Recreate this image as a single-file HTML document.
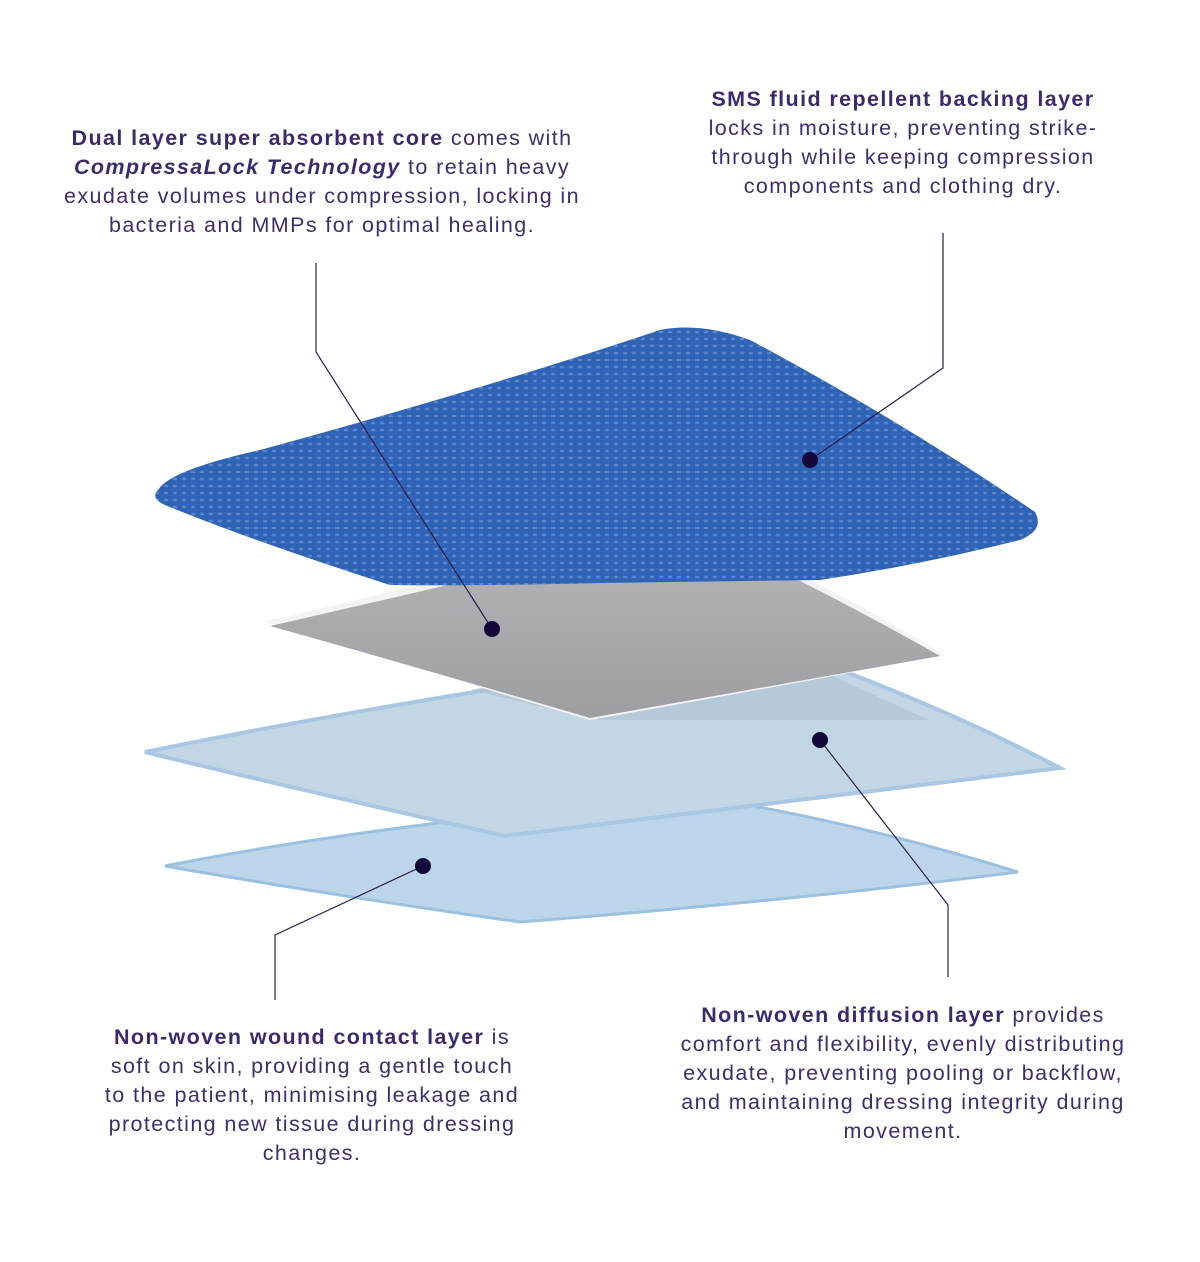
<!DOCTYPE html>
<html><head><meta charset="utf-8"><style>
body{margin:0;width:1200px;height:1262px;background:#fff;position:relative;overflow:hidden;font-family:"Liberation Sans",sans-serif;}
.t{position:absolute;text-align:center;color:#3f2d6d;font-size:21.5px;line-height:29px;letter-spacing:1.4px;white-space:nowrap;}
.t b{color:#3d2a6e}
svg{position:absolute;left:0;top:0}
</style></head><body>
<svg width="1200" height="1262">
<defs>
<pattern id="dots" width="9" height="7" patternUnits="userSpaceOnUse"><ellipse cx="4" cy="3" rx="2.3" ry="1.4" fill="#6d92d6" opacity="0.7"/></pattern>
<linearGradient id="gc" x1="0" y1="0" x2="0" y2="1"><stop offset="0" stop-color="#b5b7ba"/><stop offset="1" stop-color="#9c9ea2"/></linearGradient>
</defs>
<path d="M165,866 Q400,820 700,797 Q850,820 1018,872 Q800,900 520,922 Q330,895 165,866Z" fill="#bcd5ea" stroke="#9cc0e0" stroke-width="3"/>
<path d="M145,752 Q450,690 780,648 Q930,700 1060,768 Q800,800 505,836 Q300,790 145,752Z" fill="#c3d6e6" stroke="#a9c6e2" stroke-width="4"/>
<path d="M470,690 Q620,660 780,650 Q860,690 930,720 L600,720Z" fill="#aebfcf" opacity="0.6"/>
<path d="M265,622 Q480,570 690,520 Q820,580 945,655 Q760,690 590,720 Q420,670 265,622Z" fill="#f2f3f5"/>
<path d="M270,626 Q480,578 690,528 Q815,585 940,656 Q760,688 590,718 Q420,668 270,626Z" fill="url(#gc)"/>
<path d="M158,490 Q170,470 260,450 Q480,390 660,330 Q700,322 750,340 Q900,420 1035,512 Q1045,530 1020,540 Q920,565 820,580 L600,583 Q480,586 390,585 Q250,540 165,505 Q150,498 158,490Z" fill="#2f63b6"/>
<path d="M158,490 Q170,470 260,450 Q480,390 660,330 Q700,322 750,340 Q900,420 1035,512 Q1045,530 1020,540 Q920,565 820,580 L600,583 Q480,586 390,585 Q250,540 165,505 Q150,498 158,490Z" fill="url(#dots)"/>
<g stroke="#2a1f4a" stroke-width="1.2" fill="none">
<polyline points="316,263 316,352 492,629"/>
<polyline points="943,233 943,368 810,460"/>
<polyline points="820,740 948,905 948,977"/>
<polyline points="423,866 275,935 275,1000"/>
</g>
<g fill="#14083a">
<circle cx="492" cy="629" r="8"/><circle cx="810" cy="460" r="8"/><circle cx="820" cy="740" r="8"/><circle cx="423" cy="866" r="8"/>
</g>
</svg>
<div class="t" style="left:22px;width:600px;top:124px"><b>Dual layer super absorbent core</b> comes with<br><b><i>CompressaLock Technology</i></b> to retain heavy<br>exudate volumes under compression, locking in<br>bacteria and MMPs for optimal healing.</div>
<div class="t" style="left:653px;width:500px;top:85px"><b>SMS fluid repellent backing layer</b><br>locks in moisture, preventing strike-<br>through while keeping compression<br>components and clothing dry.</div>
<div class="t" style="left:62px;width:500px;top:1023px"><b>Non-woven wound contact layer</b> is<br>soft on skin, providing a gentle touch<br>to the patient, minimising leakage and<br>protecting new tissue during dressing<br>changes.</div>
<div class="t" style="left:633px;width:540px;top:1001px"><b>Non-woven diffusion layer</b> provides<br>comfort and flexibility, evenly distributing<br>exudate, preventing pooling or backflow,<br>and maintaining dressing integrity during<br>movement.</div>
</body></html>
